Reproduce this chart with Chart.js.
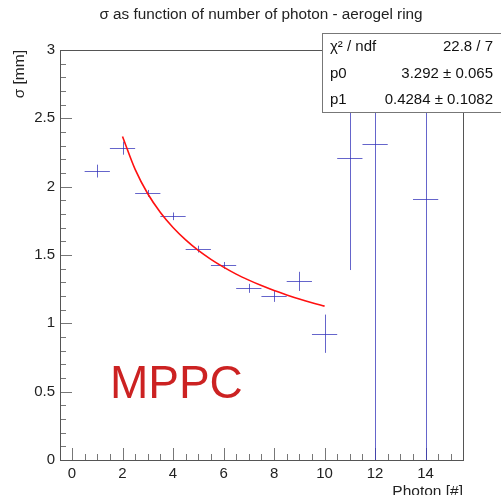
<!DOCTYPE html>
<html>
<head>
<meta charset="utf-8">
<script src="https://cdn.jsdelivr.net/npm/chart.js@4.4.0/dist/chart.umd.min.js"></script>
<style>
  html, body { margin: 0; padding: 0; background: #fff; }
  #wrap { width: 501px; height: 495px; }
</style>
</head>
<body>
<div id="wrap"><canvas id="sigmaChart" width="501" height="495"></canvas></div>
<script>
// measured points (x = number of photons, y = sigma in mm)
var photons = [1, 2, 3, 4, 5, 6, 7, 8, 9, 10, 11, 12, 14];
var sigma   = [2.114, 2.282, 1.951, 1.783, 1.543, 1.424, 1.256, 1.197, 1.307, 0.924, 2.21, 2.31, 1.909];
var xErr    = [0.5, 0.5, 0.5, 0.5, 0.5, 0.5, 0.5, 0.5, 0.5, 0.5, 0.5, 0.5, 0.5];
var yErr    = [0.047, 0.048, 0.025, 0.028, 0.025, 0.025, 0.033, 0.04, 0.07, 0.14, 0.82, 3.5, 3.5];

// fit curve
var fitX = [2, 2.5, 3, 3.5, 4, 4.5, 5, 5.5, 6, 6.5, 7, 7.5, 8, 8.5, 9, 9.5, 10];
var fitY = [2.367, 2.126, 1.948, 1.811, 1.701, 1.610, 1.533, 1.468, 1.411, 1.360, 1.316, 1.276, 1.240, 1.208, 1.178, 1.151, 1.126];

var xTicks = [0, 2, 4, 6, 8, 10, 12, 14];
var yTicks = [0, 0.5, 1, 1.5, 2, 2.5, 3];

var statNames  = ["\u03c7\u00b2 / ndf", "p0", "p1"];
var statValues = ["22.8 / 7", "3.292 \u00b1 0.065", "0.4284 \u00b1 0.1082"];

var FONT = "'Liberation Sans', Arial, sans-serif";

var rootStyle = {
  id: "rootStyle",
  beforeDatasetsDraw: function(chart) {
    var ctx = chart.ctx, xs = chart.scales.x, ys = chart.scales.y, a = chart.chartArea;
    ctx.save();
    // tick marks inside the frame
    ctx.strokeStyle = "#777";
    ctx.lineWidth = 1;
    ctx.beginPath();
    for (var i = 0; i <= 30; i++) {
      var px = Math.round(xs.getPixelForValue(i * 0.5)) + 0.5;
      var len = (i % 4 == 0) ? 12 : 6;
      ctx.moveTo(px, a.bottom);
      ctx.lineTo(px, a.bottom - len);
    }
    for (var j = 0; j <= 30; j++) {
      var py = Math.round(ys.getPixelForValue(j * 0.1)) + 0.5;
      var ylen = (j % 5 == 0) ? 12 : 6;
      ctx.moveTo(a.left, py);
      ctx.lineTo(a.left + ylen, py);
    }
    ctx.stroke();

    // error bars
    ctx.beginPath();
    ctx.rect(a.left, a.top, a.right - a.left, a.bottom - a.top);
    ctx.clip();
    ctx.strokeStyle = "rgba(50,50,185,0.75)";
    ctx.beginPath();
    for (var k = 0; k < photons.length; k++) {
      var cx = Math.round(xs.getPixelForValue(photons[k])) + 0.5;
      var cy = Math.round(ys.getPixelForValue(sigma[k])) + 0.5;
      ctx.moveTo(xs.getPixelForValue(photons[k] - xErr[k]), cy);
      ctx.lineTo(xs.getPixelForValue(photons[k] + xErr[k]), cy);
      ctx.moveTo(cx, ys.getPixelForValue(sigma[k] - yErr[k]));
      ctx.lineTo(cx, ys.getPixelForValue(sigma[k] + yErr[k]));
    }
    ctx.stroke();
    ctx.restore();
  },
  afterDraw: function(chart) {
    var ctx = chart.ctx, xs = chart.scales.x, ys = chart.scales.y, a = chart.chartArea;
    ctx.save();
    // frame
    ctx.strokeStyle = "#555";
    ctx.lineWidth = 1;
    ctx.strokeRect(a.left + 0.5, a.top + 0.5, a.right - a.left, a.bottom - a.top);

    // title
    ctx.fillStyle = "#222";
    ctx.font = "15.3px " + FONT;
    ctx.textAlign = "center";
    ctx.textBaseline = "middle";
    ctx.fillText("\u03c3 as function of number of photon - aerogel ring", 261, 15);

    // label inside the pad
    ctx.fillStyle = "#cc2222";
    ctx.font = "46px " + FONT;
    ctx.textAlign = "left";
    ctx.textBaseline = "alphabetic";
    ctx.fillText("MPPC", xs.getPixelForValue(1.5), ys.getPixelForValue(0.451));

    // axis titles
    ctx.fillStyle = "#222";
    ctx.font = "15.5px " + FONT;
    ctx.textAlign = "right";
    ctx.textBaseline = "alphabetic";
    ctx.fillText("Photon [#]", a.right, 496);
    ctx.save();
    ctx.translate(20, a.top);
    ctx.rotate(-Math.PI / 2);
    ctx.textBaseline = "middle";
    ctx.fillText("\u03c3 [mm]", 0, 0);
    ctx.restore();

    // stats box
    ctx.fillStyle = "#fff";
    ctx.fillRect(322, 33, 190, 79);
    ctx.strokeStyle = "#777";
    ctx.strokeRect(322.5, 33.5, 190, 79);
    ctx.fillStyle = "#111";
    ctx.font = "15px " + FONT;
    ctx.textBaseline = "middle";
    for (var r = 0; r < statNames.length; r++) {
      var ry = 47 + r * 26.6;
      ctx.textAlign = "left";
      ctx.fillText(statNames[r], 330, ry);
      ctx.textAlign = "right";
      ctx.fillText(statValues[r], 493, ry);
    }
    ctx.restore();
  }
};

var chartData = {
  datasets: [{
    type: "line",
    label: "fit",
    data: fitX.map(function(x, i) { return { x: x, y: fitY[i] }; }),
    borderColor: "#ff1010",
    borderWidth: 1.6,
    pointRadius: 0,
    fill: false,
    cubicInterpolationMode: "monotone"
  }, {
    type: "scatter",
    label: "sigma",
    data: photons.map(function(x, i) { return { x: x, y: sigma[i] }; }),
    pointRadius: 0,
    showLine: false
  }]
};

var chartOptions = {
  responsive: false,
  animation: false,
  layout: { padding: { left: 0, right: 38, top: 50, bottom: 0 } },
  plugins: {
    legend: { display: false },
    tooltip: { enabled: false },
    title: { display: false }
  },
  scales: {
    x: {
      type: "linear",
      min: -0.475,
      max: 15.48,
      grid: { display: false, drawTicks: false },
      border: { display: false },
      afterBuildTicks: function(scale) {
        scale.ticks = xTicks.map(function(v) { return { value: v }; });
      },
      afterFit: function(scale) { scale.height = 35; },
      ticks: {
        color: "#222",
        padding: 5,
        maxRotation: 0,
        font: { family: FONT, size: 15 }
      }
    },
    y: {
      type: "linear",
      min: 0,
      max: 3,
      grid: { display: false, drawTicks: false },
      border: { display: false },
      afterBuildTicks: function(scale) {
        scale.ticks = yTicks.map(function(v) { return { value: v }; });
      },
      afterFit: function(scale) { scale.width = 60; },
      ticks: {
        color: "#222",
        padding: 5,
        font: { family: FONT, size: 15 },
        callback: function(v) { return String(v); }
      }
    }
  }
};

var sigmaChart = new Chart(document.getElementById("sigmaChart"), {
  data: chartData,
  options: chartOptions,
  plugins: [rootStyle]
});
</script>
</body>
</html>
